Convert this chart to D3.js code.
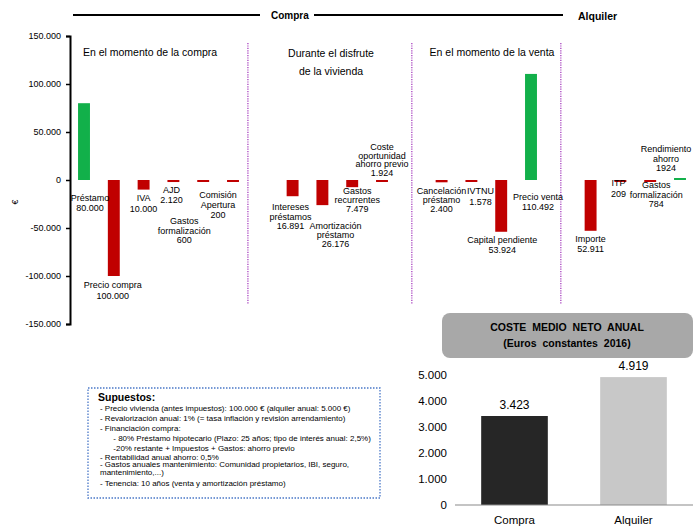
<!DOCTYPE html>
<html><head><meta charset="utf-8">
<script src="https://cdn.jsdelivr.net/npm/d3@7"></script>
<style>
body{margin:0;background:#fff}
svg{display:block}
text{font-family:"Liberation Sans",Arial,sans-serif;fill:#000}
</style>
</head><body>
<svg id="c" width="694" height="529"></svg>
<script>
// ---------- DATA ----------
const flowNames = [
  ["Préstamo"],["Precio compra"],["IVA"],["AJD"],["Gastos","formalización"],["Comisión","Apertura"],
  null,
  ["Intereses","préstamos"],["Amortización","préstamo"],["Gastos","recurrentes"],["Coste","oportunidad","ahorro previo"],
  null,
  ["Cancelación","préstamo"],["IVTNU"],["Capital pendiente"],["Precio venta"],
  null,
  ["Importe"],["ITP"],["Gastos","formalización"],["Rendimiento","ahorro"]
];
const flowValues = [80000,-100000,-10000,-2120,-600,-200,null,-16891,-26176,-7479,-1924,null,-2400,-1578,-53924,110492,null,-52911,-209,-784,1924];
const plainValueSlots = [20];
const yTicks = [150000,100000,50000,0,-50000,-100000,-150000];
const sectionTitles = [["En el momento de la compra"],["Durante el disfrute","de la vivienda"],["En el momento de la venta"]];
const groupHeaders = ["Compra","Alquiler"];

const summaryCategories = ["Compra","Alquiler"];
const summaryValues = [3423,4919];
const summaryTicks = [0,1000,2000,3000,4000,5000];
const summaryTitle = ["COSTE MEDIO NETO ANUAL","(Euros constantes 2016)"];

const assumptionsTitle = "Supuestos:";
const assumptions = [
  "- Precio vivienda (antes impuestos): 100.000 € (alquiler anual: 5.000 €)",
  "- Revalorización anual: 1% (= tasa inflación y revisión arrendamiento)",
  "- Financiación compra:",
  "      - 80% Préstamo hipotecario (Plazo: 25 años; tipo de interés anual: 2,5%)",
  "      -20% restante + Impuestos + Gastos: ahorro previo",
  "- Rentabilidad anual ahorro: 0,5%",
  "- Gastos anuales mantenimiento: Comunidad propietarios, IBI, seguro,",
  "mantenimiento,...)",
  "- Tenencia: 10 años (venta y amortización préstamo)"
];

// ---------- LAYOUT (label offsets: dx from bar centre, dy of first line from zero line, line height) ----------
const labelLayout = [
  [6,18,9.5],[-1,105,10.5],[0,18,10.5],[-2,10,10],[-19,41,9.5],[-15,15,10],null,
  [-2,27,9.5],[13,46,9],[5,11,9],[0,-33,8.7],null,
  [0,11,9],[9,11,10.5],[1,60,10],[7,17,10],null,
  [0,59,10],[-2,3,10.5],[6,5,9.5],[-14,-31,9.5]
];
const dividerSlots = [5.5, 11, 16];

const loc = d3.formatLocale({decimal:",",thousands:".",grouping:[3],currency:["","€"],minus:"-"});
const fmt = loc.format(",");

const svg = d3.select("#c");

// ---------- TOP CHART ----------
const x = d3.scaleBand().domain(d3.range(flowValues.length)).range([69.1, 694.9]).paddingInner(0.6).paddingOuter(0.3);
const y = d3.scaleLinear().domain([-150000,150000]).range([324,36]);
const cx = i => x(i) + x.bandwidth()/2;

const yAxis = svg.append("g").attr("transform","translate(70,0)")
  .call(d3.axisLeft(y).tickValues(yTicks).tickFormat(fmt).tickSizeOuter(0).tickSize(4));
yAxis.select(".domain").attr("stroke","#000").attr("stroke-width",2);
yAxis.selectAll(".tick line").attr("stroke","#000").attr("stroke-width",1.5);
yAxis.selectAll(".tick text").attr("font-size",9).attr("font-family","Liberation Sans, Arial, sans-serif").attr("x",-9).attr("fill","#000");

svg.append("text").attr("transform","translate(15,202) rotate(-90)").attr("text-anchor","middle")
  .attr("dominant-baseline","central").attr("font-size",9).text("€");

// header lines
svg.append("line").attr("x1",73).attr("x2",260).attr("y1",15).attr("y2",15).attr("stroke","#000").attr("stroke-width",2);
svg.append("line").attr("x1",314).attr("x2",563).attr("y1",15).attr("y2",15).attr("stroke","#000").attr("stroke-width",2);
svg.append("text").attr("x",271).attr("y",19).attr("font-size",10).attr("font-weight","bold").text(groupHeaders[0]);
svg.append("text").attr("x",578).attr("y",20).attr("font-size",10.5).attr("font-weight","bold").text(groupHeaders[1]);

// dividers
const step = x.step();
dividerSlots.forEach(s => {
  const xx = cx(0) + s*step;
  svg.append("line").attr("x1",xx).attr("x2",xx).attr("y1",43).attr("y2",304)
    .attr("stroke","#b45cc8").attr("stroke-width",1.5).attr("stroke-dasharray","1.2,1.2");
});

// section titles
const titlePos = [[150,52],[331,53],[492,52]];
sectionTitles.forEach((lines,k) => {
  lines.forEach((t,j) => {
    svg.append("text").attr("x",titlePos[k][0]).attr("y",titlePos[k][1]+j*18)
      .attr("text-anchor","middle").attr("dominant-baseline","central").attr("font-size",10.5).text(t);
  });
});

// bars
const idx = d3.range(flowValues.length).filter(i => flowValues[i] !== null);
svg.append("g").selectAll("rect").data(idx).join("rect")
  .attr("x", i => x(i))
  .attr("width", x.bandwidth())
  .attr("y", i => flowValues[i] >= 0 ? Math.min(y(flowValues[i]), y(0)-2) : y(0))
  .attr("height", i => Math.max(2, Math.abs(y(flowValues[i]) - y(0))))
  .attr("fill", i => flowValues[i] >= 0 ? "#12b04a" : "#c00000");

// bar labels
idx.forEach(i => {
  const [dx, dy, lh] = labelLayout[i];
  const lines = flowNames[i].concat([plainValueSlots.includes(i) ? String(Math.abs(flowValues[i])) : fmt(Math.abs(flowValues[i]))]);
  lines.forEach((t,j) => {
    svg.append("text").attr("x", cx(i)+dx).attr("y", y(0)+dy+j*lh)
      .attr("text-anchor","middle").attr("dominant-baseline","central").attr("font-size",9).text(t);
  });
});

// ---------- ASSUMPTIONS BOX ----------
svg.append("rect").attr("x",88).attr("y",388).attr("width",292).attr("height",110)
  .attr("fill","none").attr("stroke","#4a78c8").attr("stroke-width",1.3).attr("stroke-dasharray","1.5,1.5");
svg.append("text").attr("x",98).attr("y",401).attr("font-size",10.5).attr("font-weight","bold").attr("fill","#1a1a2e").text(assumptionsTitle);
const assumY = [409,419,429,438.5,448.5,457.5,465,473,484];
assumptions.forEach((t,j) => {
  svg.append("text").attr("transform",`translate(100,${assumY[j]}) scale(1.14,1)`)
    .attr("dominant-baseline","central")
    .attr("font-size",7).attr("xml:space","preserve").style("white-space","pre").text(t);
});

// ---------- SUMMARY CHART ----------
const sx = d3.scaleBand().domain(summaryCategories).range([455,693]).paddingInner(0.44).paddingOuter(0.22);
const sy = d3.scaleLinear().domain([0,5000]).range([505,375]);

svg.append("rect").attr("x",442).attr("y",313).attr("width",251).attr("height",45).attr("rx",8)
  .attr("fill","#a8a8a8");
summaryTitle.forEach((t,j) => {
  svg.append("text").attr("x",567).attr("y",327+j*16).attr("text-anchor","middle").attr("dominant-baseline","central")
    .attr("font-size",10.5).attr("font-weight","bold").attr("word-spacing",3).attr("fill","#1a1a1a").text(t);
});

const sAxis = svg.append("g").attr("transform","translate(455,0)")
  .call(d3.axisLeft(sy).tickValues(summaryTicks).tickFormat(fmt).tickSize(0));
sAxis.select(".domain").remove();
sAxis.selectAll(".tick text").attr("font-size",11.5).attr("font-family","Liberation Sans, Arial, sans-serif").attr("fill","#595959").attr("x",-8);

svg.append("g").selectAll("rect").data(summaryCategories).join("rect")
  .attr("x", d => sx(d)).attr("width", sx.bandwidth())
  .attr("y", (d,i) => sy(summaryValues[i])).attr("height", (d,i) => sy(0)-sy(summaryValues[i]))
  .attr("fill", (d,i) => i === 0 ? "#262626" : "#c8c8c8");

svg.append("line").attr("x1",455).attr("x2",693).attr("y1",sy(0)).attr("y2",sy(0)).attr("stroke","#8a8a8a").attr("stroke-width",1.2);

summaryCategories.forEach((d,i) => {
  svg.append("text").attr("x", sx(d)+sx.bandwidth()/2).attr("y", sy(summaryValues[i])-11)
    .attr("text-anchor","middle").attr("dominant-baseline","central").attr("font-size",12)
    .attr("fill", i === 0 ? "#404040" : "#e8282d").text(fmt(summaryValues[i]));
  svg.append("text").attr("x", sx(d)+sx.bandwidth()/2).attr("y", 520)
    .attr("text-anchor","middle").attr("dominant-baseline","central").attr("font-size",11.5)
    .attr("fill","#404040").text(d);
});
</script>
</body></html>
